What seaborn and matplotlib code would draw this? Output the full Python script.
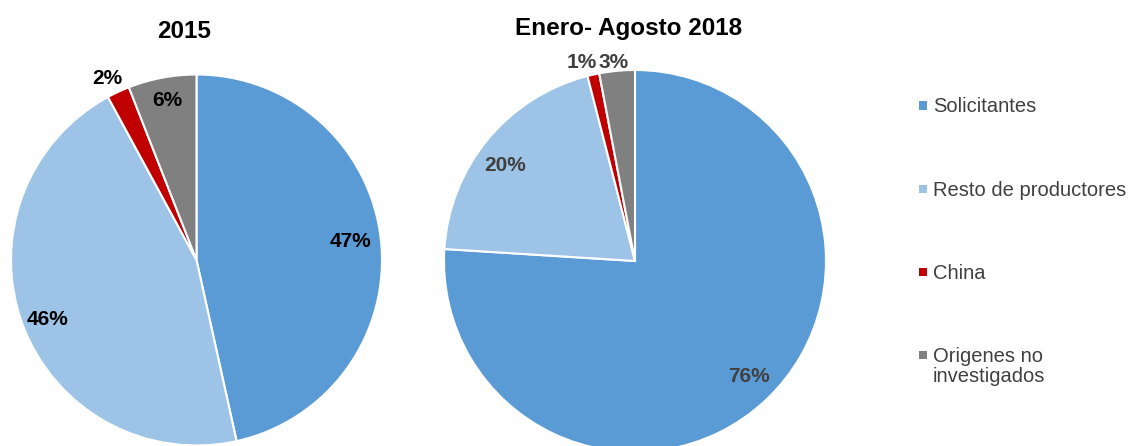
import numpy as np
import matplotlib
matplotlib.use("Agg")
import matplotlib.pyplot as plt
import matplotlib.transforms as mtransforms
from matplotlib.patches import Rectangle
import seaborn as sns

categories = ["Solicitantes", "Resto de productores", "China", "Origenes no\ninvestigados"]
values_2015 = [47, 46, 2, 6]
values_2018 = [76, 20, 1, 3]
titles = ["2015", "Enero- Agosto 2018"]
colors = ["#5B9BD5", "#9DC3E6", "#C00000", "#808080"]

sns.set_style("white")
plt.rcParams['font.family'] = ['Liberation Sans', 'DejaVu Sans']

fig = plt.figure(figsize=(11.29, 4.46), dpi=100)
W, H = 1129, 446

def add_pie_axes(cx, cy, r):
    return fig.add_axes([(cx - r) / W, (H - cy - r) / H, 2 * r / W, 2 * r / H])

ax1 = add_pie_axes(196.5, 260, 185.5)
ax2 = add_pie_axes(635, 261, 191)

def draw(ax, vals, label_r, txtcolor):
    wedges, _ = ax.pie(vals, colors=colors, startangle=90, counterclock=False,
                       wedgeprops=dict(edgecolor="white", linewidth=1.5))
    tr = mtransforms.offset_copy(ax.transData, fig=fig, x=0, y=-2.5, units='dots')
    for w, v, lr in zip(wedges, vals, label_r):
        ang = np.deg2rad((w.theta1 + w.theta2) / 2 + lr[1])
        ax.text(lr[0] * np.cos(ang), lr[0] * np.sin(ang),
                f"{v}%", ha="center", va="center", fontsize=15, fontweight="bold",
                color=txtcolor, clip_on=False, transform=tr)
    ax.set_xlim(-1, 1)
    ax.set_ylim(-1, 1)
    ax.set_aspect("auto")
    ax.axis("off")
    return wedges

wedges = draw(ax1, values_2015, [(0.835, 1.6), (0.86, 0.6), (1.10, 0.9), (0.885, -0.5)], "black")
draw(ax2, values_2018, [(0.84, 1.9), (0.85, 2.5), (1.09, 2.3), (1.06, 0.6)], "#404040")

fig.text(184 / W, 1 - 38 / H, titles[0], ha="center", va="baseline", fontsize=17.5,
         fontweight="bold", color="black")
fig.text(629 / W, 1 - 35 / H, titles[1], ha="center", va="baseline", fontsize=17.5,
         fontweight="bold", color="black")

# legend
leg_y = [105.5, 189, 272, 355]
for w, lab, y in zip(wedges, categories, leg_y):
    fig.add_artist(Rectangle((918.5 / W, 1 - (y + 4) / H), 8 / W, 8 / H,
                             transform=fig.transFigure, facecolor=w.get_facecolor(),
                             edgecolor="none"))
    fig.text(933 / W, 1 - (y - 8) / H, lab, ha="left", va="top", fontsize=14.5,
             color="#404040", linespacing=1.1)

fig.savefig("out.png", dpi=100)
